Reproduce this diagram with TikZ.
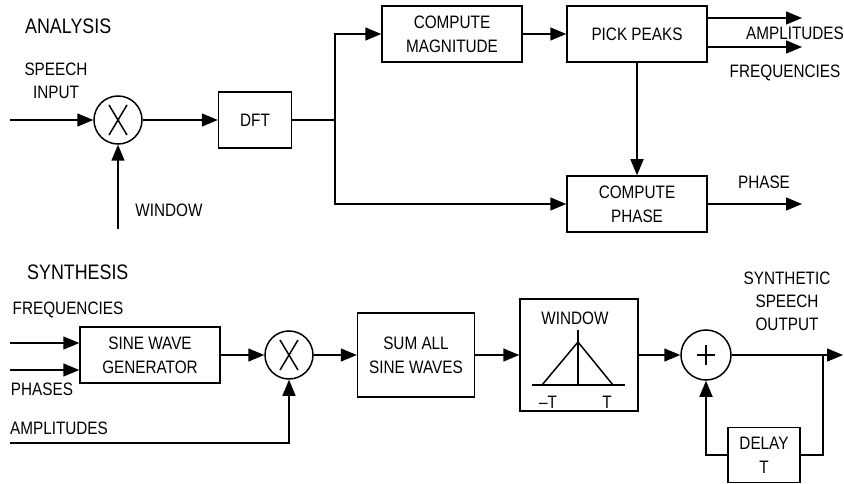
\documentclass[tikz,border=0pt]{standalone}
\usepackage{fontspec}
\setmainfont{Liberation Sans}[FakeStretch=0.85]
\usetikzlibrary{arrows.meta,positioning,calc}
\tikzset{
  arr/.style={-{Triangle[length=16pt,width=13pt]}, line width=1.5pt},
  wire/.style={line width=1.5pt},
  blk/.style={draw, line width=1.5pt, minimum width=140pt, minimum height=56pt,
    inner sep=0pt, align=center, font=\fontsize{18}{24}\selectfont},
  lbl/.style={inner sep=0pt, align=center, font=\fontsize{18}{23}\selectfont},
  head/.style={inner sep=0pt, anchor=west, font=\fontsize{21}{25}\selectfont},
  mult/.style={circle, draw, line width=1.5pt, minimum size=48pt, inner sep=0pt,
    path picture={
      \draw[line width=1.5pt]
        ([shift={(-9pt,-15pt)}]path picture bounding box.center) -- ([shift={(9pt,15pt)}]path picture bounding box.center)
        ([shift={(-9pt,15pt)}]path picture bounding box.center) -- ([shift={(9pt,-15pt)}]path picture bounding box.center);
    }},
  adder/.style={circle, draw, line width=1.5pt, minimum size=50pt, inner sep=0pt,
    path picture={
      \draw[line width=1.5pt]
        ([xshift=-9pt]path picture bounding box.center) -- ([xshift=9pt]path picture bounding box.center)
        ([yshift=-10pt]path picture bounding box.center) -- ([yshift=10pt]path picture bounding box.center);
    }}
}
\begin{document}
\begin{tikzpicture}[x=1pt,y=-1pt]
  \useasboundingbox (0,0) rectangle (844,484);

  % analysis
  \node[head] (ana) at (25,26) {ANALYSIS};
  \node[lbl] (spin) at (56,81) {SPEECH\\INPUT};
  \coordinate (in) at (10,120);
  \node[mult] (mula) at (118,120) {};
  \coordinate (winin) at (118,229);
  \node[lbl] (winl) at (169,210) {WINDOW};
  \node[blk, minimum width=73pt] (dft) at (255,120) {DFT};
  \coordinate (br) at (335,120);
  \node[blk] (mag) at (452,34) {COMPUTE\\MAGNITUDE};
  \node[blk] (peaks) at (637,34) {PICK PEAKS};
  \node[blk] (phase) at (637,204) {COMPUTE\\PHASE};
  \coordinate (ampout) at (802,18);
  \coordinate (frqout) at (802,47);
  \coordinate (phout) at (802,204);
  \node[lbl] (ampl) at (795,33) {AMPLITUDES};
  \node[lbl] (frql) at (785,73) {FREQUENCIES};
  \node[lbl] (phl) at (764,182) {PHASE};

  \draw[arr] (in) -- (mula);
  \draw[arr] (winin) -- (mula);
  \draw[arr] (mula) -- (dft);
  \draw[wire] (dft) -- (br);
  \draw[arr] (br) |- (mag);
  \draw[arr] (br) |- (phase);
  \draw[arr] (mag) -- (peaks);
  \draw[arr] (peaks) -- (phase);
  \draw[arr] (peaks.east |- ampout) -- (ampout);
  \draw[arr] (peaks.east |- frqout) -- (frqout);
  \draw[arr] (phase) -- (phout);

  % synthesis
  \node[head] (syn) at (27,272) {SYNTHESIS};
  \node[lbl] (frqin) at (68,310) {FREQUENCIES};
  \node[lbl] (phin) at (42,389) {PHASES};
  \node[lbl] (ampin) at (59,428) {AMPLITUDES};
  \node[blk] (gen) at (150,355) {SINE WAVE\\GENERATOR};
  \coordinate (f0) at (10,343);
  \coordinate (p0) at (10,370);
  \coordinate (a0) at (10,443);
  \node[mult] (mulb) at (289,355) {};
  \node[blk, minimum width=117pt, minimum height=84pt] (sum) at (416,355) {SUM ALL\\SINE WAVES};
  \node[blk, minimum width=118pt, minimum height=112pt] (wbox) at (579,355) {};
  \node[adder] (add) at (706,355) {};
  \coordinate (out) at (843,355);
  \coordinate (tap) at (823,355);
  \node[blk, minimum width=72pt, minimum height=55pt] (delay) at (764,455) {DELAY\\T};
  \node[lbl] (outl) at (787,301) {SYNTHETIC\\SPEECH\\OUTPUT};

  % window shape
  \node[lbl] (wtitle) at (575,318) {WINDOW};
  \draw[wire] (532,385) -- (625,385);
  \draw[wire] (542,385) -- (578,342) -- (613,385);
  \draw[wire] (578,330) -- (578,385);
  \node[lbl] (mt) at (548,402) {--T};
  \node[lbl] (pt) at (607,402) {T};

  \draw[arr] (f0) -- (gen.west |- f0);
  \draw[arr] (p0) -- (gen.west |- p0);
  \draw[arr] (gen) -- (mulb);
  \draw[arr] (a0) -| (mulb);
  \draw[arr] (mulb) -- (sum);
  \draw[arr] (sum) -- (wbox);
  \draw[arr] (wbox) -- (add);
  \draw[arr] (add) -- (out);
  \draw[wire] (tap) |- (delay);
  \draw[arr] (delay) -| (add);
\end{tikzpicture}
\end{document}
